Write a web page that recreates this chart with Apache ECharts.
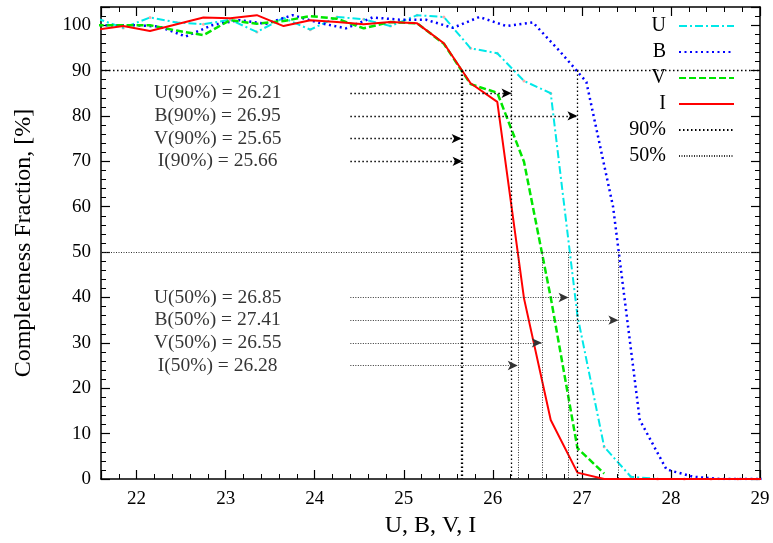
<!DOCTYPE html>
<html><head><meta charset="utf-8">
<script src="https://cdn.jsdelivr.net/npm/echarts@6/dist/echarts.min.js"></script>
<style>html,body{margin:0;padding:0;background:#fff}#c{width:773px;height:543px}</style>
</head><body><div id="c"></div>
<script>
// ---- data ----
const xUVI = [21.55,21.85,22.15,22.45,22.75,23.05,23.35,23.65,23.95,24.25,24.55,24.85,25.15,25.45,25.75,26.05,26.35,26.65,26.95,27.25,27.55,27.85,28.15,28.45,28.75,29.05];
const xB   = [21.65,21.95,22.25,22.55,22.85,23.15,23.45,23.75,24.05,24.35,24.65,24.95,25.25,25.55,25.85,26.15,26.45,26.75,27.05,27.35,27.65,27.95,28.25,28.55,28.85,29.15];
const valsU = [101.5,99.4,101.7,100.6,100.2,101.2,98.5,101.6,99.0,101.8,101.3,99.8,102.2,101.8,94.9,93.8,87.7,85.0,36.0,7.1,0.5,0,0,0,0,0];
const valsB = [100.0,100.0,99.7,97.5,100.0,101.1,100.3,102.2,100.5,99.3,101.7,101.2,101.2,99.4,101.8,99.8,100.6,94.3,87.5,60.0,13.0,2.1,0.5,0,0,0];
const valsV = [100.0,100.0,100.0,98.8,97.8,101.1,100.3,100.9,102.0,101.4,99.3,100.7,100.4,95.9,87.0,85.1,69.9,40.0,6.8,1.2];
const valsI = [99.0,99.8,98.7,100.2,101.7,101.5,102.2,99.8,101.1,100.7,100.2,100.7,100.4,96.0,87.2,83.1,39.8,13.0,1.4,0,0,0,0,0,0,0];
const bands = ['U','B','V','I'];
const lim90 = [26.21, 26.95, 25.65, 25.66];
const lim50 = [26.85, 27.41, 26.55, 26.28];
const arrowY90 = [85, 80, 75, 70];
const arrowY50 = [40, 35, 30, 25];
const arrowStartX = 24.4;
const textCenterX = 22.91;

// ---- build ----
const zip = (xs, ys) => ys.map((v, i) => [xs[i], v]);
const FONT = 'Liberation Serif';
const dot90 = { color: '#000', width: 1.3, type: [1.5, 2.5] };
const dot50 = { color: '#333', width: 1, type: [1, 1.5] };

function refMarks(lims, ys, level) {
  const d = [];
  lims.forEach((v, i) => {
    d.push([{ coord: [v, level] }, { coord: [v, 0] }]);
    d.push([{ coord: [arrowStartX, ys[i]] }, { coord: [v, ys[i]], symbol: 'arrow', symbolSize: [7, 10] }]);
  });
  d.push([{ coord: [21.6, level] }, { coord: [29, level] }]);
  return d;
}

const labelData = [];
bands.forEach((b, i) => {
  labelData.push({ value: [textCenterX, arrowY90[i]], name: b + '(90%) = ' + lim90[i].toFixed(2) });
  labelData.push({ value: [textCenterX, arrowY50[i]], name: b + '(50%) = ' + lim50[i].toFixed(2) });
});

const chart = echarts.init(document.getElementById('c'), null, { renderer: 'canvas' });
const axisCommon = {
  type: 'value',
  axisLine: { show: true, onZero: false, lineStyle: { color: '#000', width: 1.5 } },
  axisTick: { show: true, inside: true, length: 9, lineStyle: { color: '#000', width: 1.2 } },
  minorTick: { show: true, splitNumber: 5, length: 5, lineStyle: { color: '#000', width: 1 } },
  splitLine: { show: false },
  minorSplitLine: { show: false }
};
chart.setOption({
  animation: false,
  backgroundColor: '#fff',
  textStyle: { fontFamily: FONT },
  grid: { left: 101, right: 13, top: 7, bottom: 64, containLabel: false, outerBoundsMode: 'none' },
  xAxis: [
    Object.assign({}, axisCommon, {
      min: 21.6, max: 29, splitNumber: 7, position: 'bottom',
      name: 'U, B, V, I', nameLocation: 'middle', nameGap: 35,
      nameTextStyle: { fontFamily: FONT, fontSize: 24, color: '#000' },
      axisLabel: { showMinLabel: false, fontFamily: FONT, fontSize: 19, color: '#000', margin: 11,
        formatter: v => (Math.abs(v - Math.round(v)) < 1e-6 ? String(Math.round(v)) : '') }
    }),
    Object.assign({}, axisCommon, {
      min: 21.6, max: 29, splitNumber: 7, position: 'top', axisLabel: { show: false }
    })
  ],
  yAxis: [
    Object.assign({}, axisCommon, {
      min: 0, max: 104, interval: 10, position: 'left',
      name: 'Completeness Fraction, [%]', nameLocation: 'middle', nameGap: 65,
      nameTextStyle: { fontFamily: FONT, fontSize: 24, color: '#000' },
      axisLabel: { showMaxLabel: false, fontFamily: FONT, fontSize: 19, color: '#000', margin: 10,
        formatter: v => (v % 10 === 0 ? String(v) : '') }
    }),
    Object.assign({}, axisCommon, {
      min: 0, max: 104, interval: 10, position: 'right', axisLabel: { show: false }
    })
  ],
  legend: {
    data: ['U', 'B', 'V', 'I', '90%', '50%'],
    orient: 'vertical', align: 'right', right: 38, top: 16, padding: 0,
    itemWidth: 55, itemHeight: 14, itemGap: 6,
    itemStyle: { opacity: 0 },
    textStyle: { fontFamily: FONT, fontSize: 20, color: '#000', lineHeight: 14, padding: [0, 8, 0, 0] }
  },
  series: [
    { name: '90%', type: 'line', data: [], symbol: 'none', lineStyle: dot90, itemStyle: { color: '#000' },
      markLine: { silent: true, symbol: ['none', 'none'], label: { show: false }, lineStyle: dot90,
        emphasis: { disabled: true }, data: refMarks(lim90, arrowY90, 90) } },
    { name: '50%', type: 'line', data: [], symbol: 'none', lineStyle: dot50, itemStyle: { color: '#333' },
      markLine: { silent: true, symbol: ['none', 'none'], label: { show: false }, lineStyle: dot50,
        emphasis: { disabled: true }, data: refMarks(lim50, arrowY50, 50) } },
    { name: 'U', type: 'line', data: zip(xUVI, valsU), symbol: 'none', itemStyle: { color: '#00e8e8' },
      lineStyle: { color: '#00e8e8', width: 2, type: [8, 3, 2, 3] } },
    { name: 'U-pts', type: 'scatter', data: zip(xUVI, valsU), symbol: 'circle', symbolSize: 3,
      itemStyle: { color: '#ff9090' }, silent: true },
    { name: 'B', type: 'line', data: zip(xB, valsB), symbol: 'none', itemStyle: { color: '#0000ff' },
      lineStyle: { color: '#0000ff', width: 2.5, type: [2, 3.5] } },
    { name: 'V', type: 'line', data: zip(xUVI, valsV), symbol: 'none', itemStyle: { color: '#00e600' },
      lineStyle: { color: '#00e600', width: 2.5, type: [7, 3] } },
    { name: 'I', type: 'line', data: zip(xUVI, valsI), symbol: 'none', itemStyle: { color: '#ff0000' },
      lineStyle: { color: '#ff0000', width: 2 } },
    { name: 'texts', type: 'scatter', data: labelData, symbolSize: 0, silent: true,
      label: { show: true, position: 'inside', formatter: p => p.name,
        fontFamily: FONT, fontSize: 19.5, color: '#000' } }
  ]
});
</script>
</body></html>
